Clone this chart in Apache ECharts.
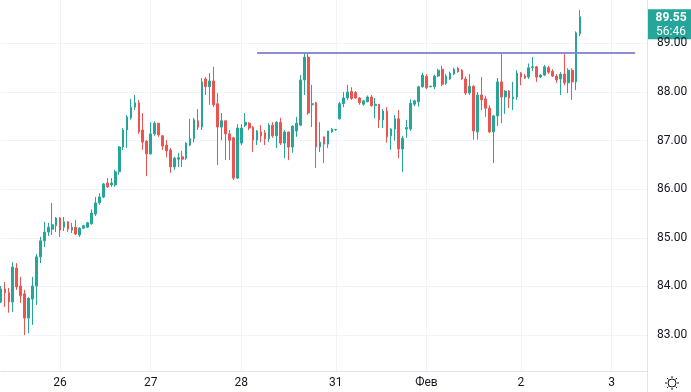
<!DOCTYPE html>
<html><head><meta charset="utf-8">
<script src="https://cdn.jsdelivr.net/npm/echarts@6/dist/echarts.min.js"></script>
<style>html,body{margin:0;padding:0;background:#fff}#c{width:691px;height:392px}</style>
</head><body><div id="c"></div>
<script>
// [open, close, low, high]
const ohlc = [
[83.68,83.95,83.66,84.01],[83.95,83.87,83.58,84.09],[83.87,83.68,83.46,83.97],[83.68,84.40,83.48,84.50],
[84.38,83.99,83.93,84.48],[84.01,83.81,83.66,84.20],[83.85,83.35,83.00,83.93],[83.35,83.76,83.04,83.78],
[83.74,84.01,83.21,84.20],[84.01,84.61,83.62,84.67],[84.61,84.94,84.48,85.02],[84.94,85.12,84.81,85.33],
[85.12,85.22,85.04,85.31],[85.18,85.27,85.06,85.72],[85.25,85.41,85.12,85.43],[85.41,85.16,85.02,85.43],
[85.22,85.33,85.14,85.43],[85.33,85.18,85.12,85.35],[85.16,85.22,85.10,85.31],[85.22,85.08,85.06,85.37],
[85.06,85.20,85.02,85.22],[85.20,85.25,85.18,85.27],[85.22,85.31,85.20,85.33],[85.29,85.51,85.27,85.59],
[85.49,85.72,85.45,85.84],[85.72,85.84,85.68,85.92],[85.84,86.11,85.82,86.13],[86.13,86.05,86.03,86.23],
[86.09,86.13,86.05,86.23],[86.09,86.36,86.05,86.40],[86.36,86.87,86.30,86.89],[86.87,87.22,86.81,87.26],
[87.22,87.49,86.85,87.53],[87.47,87.69,87.43,87.86],[87.69,87.78,87.63,87.94],[87.78,87.18,87.14,87.84],
[87.22,86.97,86.81,87.57],[86.99,86.73,86.27,87.01],[86.73,87.14,86.71,87.38],[87.14,87.36,87.10,87.40],
[87.36,87.12,87.08,87.36],[87.10,86.89,86.81,87.12],[86.91,86.79,86.66,87.01],[86.81,86.46,86.34,86.85],
[86.46,86.64,86.40,86.67],[86.62,86.65,86.46,86.75],[86.67,86.62,86.46,86.79],[86.64,86.95,86.60,86.97],
[86.91,87.04,86.89,87.45],[87.04,87.43,86.97,87.47],[87.41,87.28,87.22,87.65],[87.28,88.21,87.22,88.29],
[88.27,88.11,87.94,88.31],[88.11,88.23,87.74,88.39],[88.23,87.74,87.69,88.52],[87.76,87.28,86.50,87.98],
[87.28,87.41,87.01,87.57],[87.41,87.14,86.60,87.41],[87.14,87.01,86.60,87.22],[87.06,86.23,86.19,87.08],
[86.23,87.26,86.21,87.34],[86.95,87.26,86.91,87.34],[87.32,87.38,87.28,87.57],[87.36,87.26,87.22,87.38],
[87.28,87.01,86.77,87.30],[87.01,87.20,86.91,87.22],[87.18,87.10,86.97,87.32],[87.16,87.04,86.91,87.22],
[87.04,87.32,86.97,87.36],[87.32,87.10,87.06,87.38],[87.10,87.38,86.85,87.40],[87.38,86.95,86.91,87.47],
[86.95,87.18,86.64,87.22],[87.18,86.87,86.60,87.18],[86.87,87.30,86.75,87.32],[87.20,87.36,87.08,87.49],
[87.32,88.25,87.30,88.35],[88.25,88.72,87.94,88.80],[88.72,87.57,87.53,88.80],[87.74,87.76,87.28,88.15],
[87.78,86.87,86.44,87.80],[86.87,86.97,86.77,87.38],[87.08,86.93,86.54,87.08],[86.93,87.20,86.85,87.20],
[87.18,87.24,87.16,87.26],[87.22,87.23,87.21,87.24],[87.45,87.76,87.43,87.80],[87.76,87.88,87.69,88.00],
[87.88,88.00,87.84,88.15],[88.01,87.87,87.84,88.10],[87.99,87.88,87.86,88.02],[87.88,87.78,87.74,87.90],
[87.75,87.82,87.72,87.84],[87.80,87.90,87.79,87.93],[87.90,87.72,87.70,87.94],[87.72,87.75,87.46,87.88],
[87.75,87.43,87.26,87.75],[87.43,87.61,87.26,87.65],[87.61,87.08,86.96,87.69],[87.10,87.24,86.81,87.26],
[87.24,87.45,87.00,87.53],[87.45,86.83,86.64,87.63],[86.83,87.05,86.36,87.10],[87.24,87.27,87.06,87.43],
[87.24,87.77,87.20,87.85],[87.75,87.82,87.71,87.84],[87.80,88.11,87.70,88.13],[88.11,88.35,88.09,88.40],
[88.32,88.09,88.06,88.37],[88.11,88.12,88.10,88.13],[88.11,88.33,88.06,88.36],[88.33,88.45,88.31,88.48],
[88.47,88.16,88.12,88.54],[88.18,88.33,88.15,88.37],[88.27,88.39,88.25,88.42],[88.37,88.47,88.35,88.50],
[88.49,88.42,88.40,88.52],[88.45,88.27,88.25,88.47],[88.27,87.98,87.94,88.32],[87.98,88.12,87.94,88.37],
[88.12,87.20,87.02,88.14],[87.18,87.94,87.02,88.00],[87.94,87.84,87.63,88.31],[87.86,87.67,87.49,87.92],
[87.67,87.18,87.16,87.73],[87.18,87.51,86.54,87.53],[87.51,88.21,87.30,88.29],[88.21,87.90,87.36,88.80],
[87.90,88.02,87.55,88.04],[88.02,87.88,87.67,88.04],[87.86,87.90,87.63,88.21],[87.90,88.39,87.84,88.45],
[88.39,88.31,88.14,88.41],[88.33,88.29,88.27,88.37],[88.31,88.50,88.27,88.59],[88.50,88.52,88.43,88.72],
[88.52,88.31,88.21,88.54],[88.31,88.35,88.29,88.37],[88.35,88.52,88.33,88.56],[88.50,88.41,88.37,88.54],
[88.43,88.33,88.31,88.47],[88.33,88.25,88.19,88.37],[88.27,88.37,87.94,88.41],[88.37,88.19,88.14,88.78],
[88.19,88.45,87.98,88.49],[88.45,88.21,87.84,88.49],[88.21,89.22,88.04,89.25],[89.20,89.55,89.15,89.69]
];
const dayLabels = ['26','27','28','31','Фев','2','3'];
const dayLabelIndex = [15,38,61,85,108,132,155];
const priceTicks = [83,84,85,86,87,88,89];
const levelPrice = 88.805;
const levelRange = [65,161];
const lastPrice = 89.55;
const countdown = '56:46';
const slotCount = 165;

const cats = new Array(slotCount).fill('');
dayLabelIndex.forEach((idx,k)=>{cats[idx]=dayLabels[k];});

const UP='#26a69a', DOWN='#ef5350';
const chart = echarts.init(document.getElementById('c'));
chart.setOption({
  animation:false,
  backgroundColor:'#ffffff',
  grid:{left:1,right:44,top:0,bottom:21,containLabel:false},
  xAxis:{
    type:'category',data:cats,boundaryGap:false,
    axisLine:{show:true,lineStyle:{color:'#e0e3eb',width:1}},
    axisTick:{show:false},
    axisLabel:{interval:(i,v)=>v!=='',color:'#131722',fontSize:12,fontFamily:'Roboto',margin:6,hideOverlap:false},
    splitLine:{show:true,interval:(i,v)=>v!=='',lineStyle:{color:'#f0f3fa',width:1}}
  },
  yAxis:{
    type:'value',position:'right',scale:true,
    min:82.261,max:89.895,
    axisLine:{show:true,lineStyle:{color:'#e0e3eb',width:1}},
    axisTick:{show:false,customValues:priceTicks},
    axisLabel:{customValues:priceTicks,formatter:v=>v.toFixed(2),color:'#131722',fontSize:12,fontFamily:'Roboto',margin:10,align:'left'},
    splitLine:{show:true,lineStyle:{color:'#f0f3fa',width:1}}
  },
  series:[{
    type:'candlestick',
    data:ohlc,
    barWidth:2.2,
    clip:false,
    itemStyle:{color:UP,color0:DOWN,borderColor:UP,borderColor0:DOWN,borderWidth:1},
    markLine:{
      silent:true,symbol:['none','none'],label:{show:false},
      lineStyle:{color:'#7f82cc',width:2,type:'solid',opacity:0.9},
      data:[[{coord:[levelRange[0],levelPrice]},{coord:[levelRange[1],levelPrice]}]]
    }
  }]
});

const py = chart.convertToPixel({yAxisIndex:0},lastPrice);
const gx=672, gy=383;
const rays=[];
for(let k=0;k<8;k++){
  const a=k*Math.PI/4;
  rays.push({type:'line',shape:{x1:gx+Math.cos(a)*5,y1:gy+Math.sin(a)*5,x2:gx+Math.cos(a)*7,y2:gy+Math.sin(a)*7},style:{stroke:'#131722',lineWidth:1}});
}
chart.setOption({graphic:[
  {type:'line',shape:{x1:647.5,y1:371,x2:647.5,y2:392},style:{stroke:'#e0e3eb',lineWidth:1}},
  {type:'rect',shape:{x:647,y:py-7.5,width:44,height:30},style:{fill:UP}},
  {type:'text',style:{text:lastPrice.toFixed(2),x:671,y:py+1,align:'center',verticalAlign:'middle',fill:'#ffffff',font:'bold 12px Roboto'}},
  {type:'text',style:{text:countdown,x:671,y:py+15,align:'center',verticalAlign:'middle',fill:'#ffffff',font:'12px Roboto'}},
  {type:'circle',shape:{cx:gx,cy:gy,r:4},style:{fill:'none',stroke:'#131722',lineWidth:1}}
].concat(rays)});
</script></body></html>
